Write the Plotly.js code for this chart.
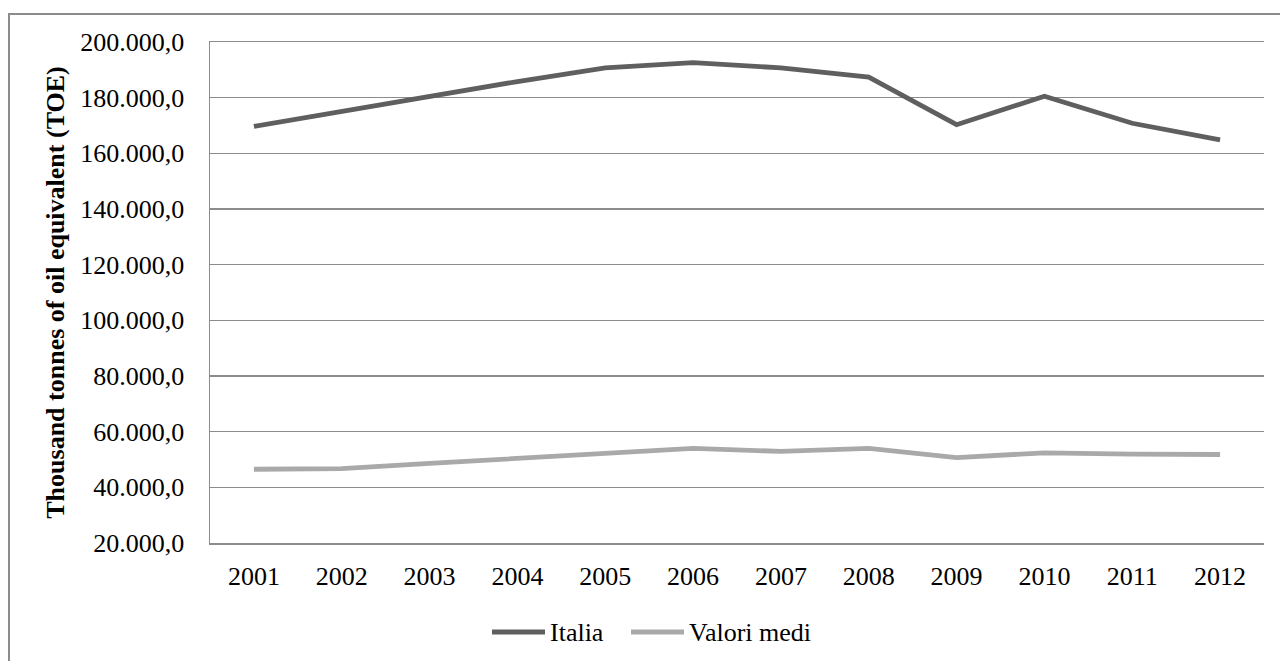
<!DOCTYPE html>
<html>
<head>
<meta charset="utf-8">
<script src="https://cdn.plot.ly/plotly-3.0.1.min.js"></script>
<style>
  html, body { margin: 0; padding: 0; background: #ffffff; }
  #frame {
    position: absolute; left: 8px; top: 13px; width: 1300px; height: 700px;
    border-left: 2px solid #8c8c8c; border-top: 2px solid #8c8c8c;
    box-sizing: border-box;
  }
  #chart { position: absolute; left: 0; top: 0; width: 1280px; height: 661px; }
</style>
</head>
<body>
<div id="frame"></div>
<div id="chart"></div>
<script>
// Energy consumption, thousand tonnes of oil equivalent
const years = ['2001','2002','2003','2004','2005','2006','2007','2008','2009','2010','2011','2012'];
const italia = [169700, 175000, 180600, 185800, 190700, 192600, 190700, 187400, 170300, 180500, 170800, 164800];
const valoriMedi = [46500, 46700, 48600, 50500, 52500, 54000, 52900, 54000, 50700, 52400, 51900, 51800];
const yTicks = [20000, 40000, 60000, 80000, 100000, 120000, 140000, 160000, 180000, 200000];
const seriesNames = ['Italia', 'Valori medi'];
const seriesColors = ['#5f5f5f', '#a9a9a9'];

const serif = 'Liberation Serif, Times New Roman, serif';
const fs = 26;
const lineW = 4.8;
const gridColor = '#8c8c8c';

const traces = [
  { x: years, y: italia, name: seriesNames[0], type: 'scatter', mode: 'lines',
    line: { color: seriesColors[0], width: lineW } },
  { x: years, y: valoriMedi, name: seriesNames[1], type: 'scatter', mode: 'lines',
    line: { color: seriesColors[1], width: lineW } }
];

// Plot area in pixels, used to place the legend below it
const M = { l: 210, r: 16, t: 42, b: 118 };
const W = 1280, H = 661;
const pw = W - M.l - M.r, ph = H - M.t - M.b;
const px = v => (v - M.l) / pw;
const py = v => (H - M.b - v) / ph;

// Legend: long line swatch followed by the series name
const legendY = 632;
const legendItems = [
  { x0: 492, x1: 545, tx: 548 },
  { x0: 631, x1: 684, tx: 687 }
];
const shapes = legendItems.map((it, i) => ({
  type: 'line', xref: 'paper', yref: 'paper',
  x0: px(it.x0), x1: px(it.x1), y0: py(legendY), y1: py(legendY),
  line: { color: seriesColors[i], width: lineW }
}));
const annotations = legendItems.map((it, i) => ({
  xref: 'paper', yref: 'paper', x: px(it.tx), y: py(legendY),
  xanchor: 'left', yanchor: 'middle', showarrow: false,
  text: seriesNames[i], font: { family: serif, size: fs, color: '#000000' }
}));

const layout = {
  width: W, height: H,
  paper_bgcolor: 'rgba(0,0,0,0)', plot_bgcolor: 'rgba(0,0,0,0)',
  margin: M,
  separators: ',.',
  font: { family: serif, size: fs, color: '#000000' },
  showlegend: false,
  shapes: shapes,
  annotations: annotations,
  xaxis: {
    type: 'category', range: [-0.5, 11.5], showgrid: false, zeroline: false,
    showline: true, mirror: true, linecolor: gridColor, linewidth: 1.5,
    ticks: '', tickfont: { family: serif, size: fs },
    ticklabelstandoff: 9
  },
  yaxis: {
    range: [20000, 200000], tickvals: yTicks, tickformat: ',.1f',
    showgrid: true, gridcolor: gridColor, gridwidth: 1.5,
    showline: true, linecolor: gridColor, linewidth: 1.5,
    zeroline: false, ticks: '', tickfont: { family: serif, size: fs },
    ticklabelstandoff: 19,
    title: { text: '<b>Thousand tonnes of oil equivalent (TOE)</b>', standoff: 8,
             font: { family: serif, size: fs, color: '#000000' } }
  }
};

Plotly.newPlot('chart', traces, layout, { displayModeBar: false, staticPlot: true });
</script>
</body>
</html>
